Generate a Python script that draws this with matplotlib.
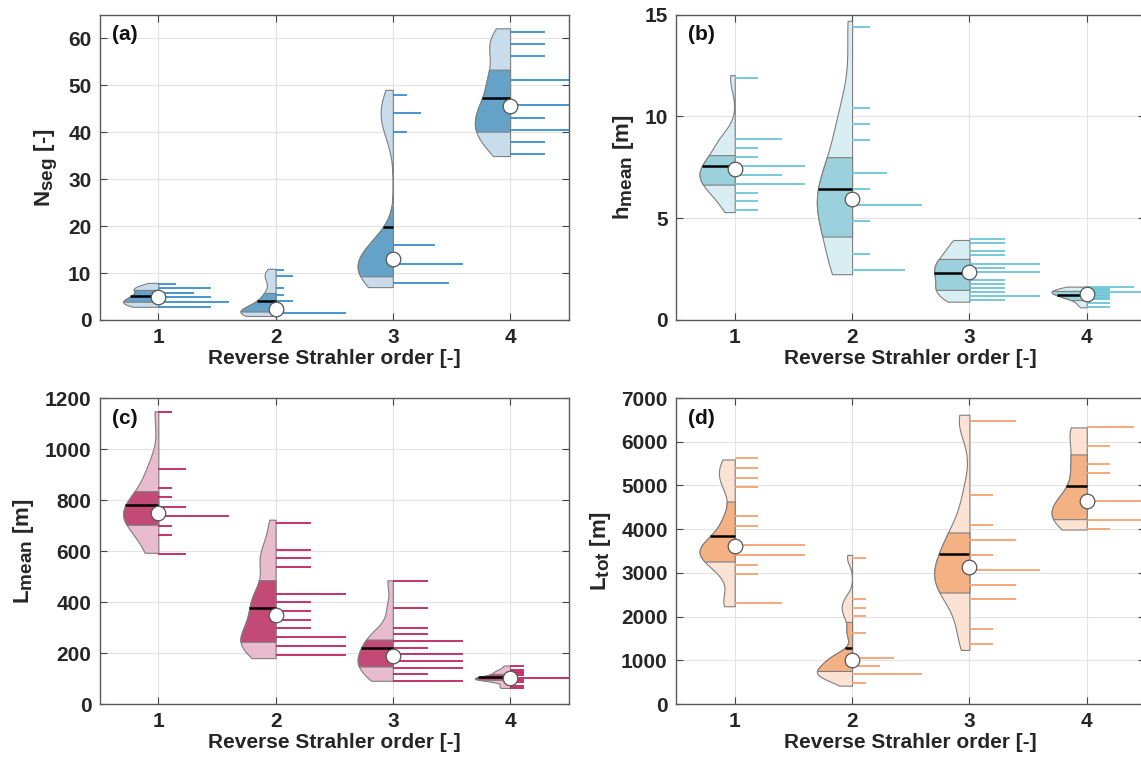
import numpy as np
import matplotlib
matplotlib.use("Agg")
import matplotlib.pyplot as plt
import matplotlib._mathtext as mathtext_internals

plt.rcParams['font.family'] = ['Liberation Sans', 'DejaVu Sans']
plt.rcParams['font.weight'] = 'bold'
plt.rcParams['mathtext.fontset'] = 'custom'
plt.rcParams['mathtext.rm'] = 'Liberation Sans:bold'
plt.rcParams['mathtext.it'] = 'Liberation Sans:bold'
plt.rcParams['mathtext.bf'] = 'Liberation Sans:bold'
# the MATLAB labels use big subscripts
mathtext_internals.SHRINK_FACTOR = 0.85

orders = [1, 2, 3, 4]

# ---- (a) N_seg ----
a_vals = [[7.7, 6.8, 5.8, 4.8, 3.8, 2.8],
          [10.65, 9.3, 6.75, 5.4, 4.1, 2.85, 1.5],
          [48.0, 44.0, 40.0, 15.9, 11.9, 7.9],
          [61.4, 58.8, 56.2, 51.0, 45.7, 43.1, 40.5, 37.9, 35.3]]
a_counts = [[1, 3, 2, 3, 4, 3],
            [1, 2, 1, 1, 2, 1, 8],
            [1, 2, 1, 3, 5, 4],
            [1, 1, 1, 2, 2, 1, 2, 1, 1]]
a_range = [(2.8, 7.9), (0.85, 10.9), (7.0, 49.0), (34.9, 62.1)]
a_q1 = [3.9, 1.8, 9.3, 40.1]
a_med = [5.0, 4.1, 19.7, 47.2]
a_q3 = [6.4, 5.75, 24.1, 53.3]
a_mean = [4.9, 2.35, 12.9, 45.5]
a_bw = [0.7, 1.4, 4.0, 3.2]

# ---- (b) h_mean ----
b_vals = [[11.87, 8.87, 8.43, 8.0, 7.57, 7.13, 6.70, 6.26, 5.84, 5.39],
          [14.38, 10.41, 9.61, 8.82, 7.23, 6.43, 5.64, 4.85, 3.26, 2.48],
          [3.98, 3.79, 3.39, 3.18, 2.77, 2.57, 2.38, 1.97, 1.77, 1.57, 1.38, 1.18, 0.97],
          [1.62, 1.54, 1.46, 1.38, 1.31, 1.24, 1.17, 1.10, 1.04, 0.85, 0.66]]
b_counts = [[1, 2, 1, 1, 3, 2, 3, 1, 1, 1],
            [1, 1, 1, 1, 2, 1, 4, 1, 1, 3],
            [1, 1, 1, 1, 2, 1, 2, 1, 1, 1, 1, 2, 1],
            [2, 1, 1, 3, 1, 1, 1, 1, 1, 1, 1]]
b_range = [(5.3, 12.03), (2.25, 14.7), (0.9, 3.93), (0.62, 1.64)]
b_q1 = [6.65, 4.1, 1.48, 0.98]
b_med = [7.56, 6.44, 2.3, 1.21]
b_q3 = [8.1, 8.0, 3.0, 1.43]
b_mean = [7.43, 5.92, 2.36, 1.28]
b_bw = [0.62, 1.6, 0.5, 0.15]

# ---- (c) L_mean ----
c_vals = [[1144, 922, 848, 811, 774, 737, 699, 662, 587],
          [708, 605, 571, 537, 433, 399, 365, 331, 297, 262, 228, 194],
          [482, 377, 298, 273, 247, 221, 195, 169, 142, 116, 91],
          [150, 134, 127, 120, 114, 101, 94, 88, 71, 64]]
c_counts = [[1, 2, 1, 1, 2, 5, 1, 1, 2],
            [1, 1, 1, 1, 2, 1, 1, 1, 1, 2, 2, 2],
            [1, 1, 1, 1, 2, 1, 2, 2, 2, 1, 2],
            [1, 1, 1, 1, 1, 5, 1, 1, 1, 1]]
c_range = [(593, 1148), (180, 723), (91, 485), (63, 151)]
c_q1 = [703, 244, 147, 95]
c_med = [779, 377, 218, 105]
c_q3 = [835, 486, 253, 118]
c_mean = [750, 350, 189, 101]
c_bw = [70, 60, 40, 9]

# ---- (d) L_tot ----
d_vals = [[5618, 5397, 5176, 4954, 4290, 4069, 3634, 3412, 3191, 2969, 2305],
          [3351, 2397, 2206, 2015, 1634, 1061, 870, 679, 489],
          [6481, 4779, 4092, 3756, 3412, 3076, 2733, 2397, 1710, 1366],
          [6328, 5901, 5481, 5275, 4641, 4221, 4008]]
d_counts = [[1, 1, 1, 1, 1, 1, 3, 3, 1, 1, 2],
            [1, 1, 1, 1, 1, 3, 2, 5, 1],
            [2, 1, 1, 2, 1, 3, 2, 2, 1, 1],
            [2, 1, 1, 1, 3, 3, 1]]
d_range = [(2237, 5595), (420, 3412), (1237, 6618), (3992, 6328)]
d_q1 = [3260, 756, 2550, 4229]
d_med = [3840, 1290, 3427, 4977]
d_q3 = [4634, 1878, 3924, 5710]
d_mean = [3626, 1000, 3145, 4649]
d_bw = [300, 170, 450, 350]

panels = [
    dict(tag='(a)', ylabel=r'N$_{\mathrm{seg}}$ [-]', ylim=(0, 65), yticks=np.arange(0, 61, 10),
         vals=a_vals, counts=a_counts, rng=a_range, q1=a_q1, med=a_med, q3=a_q3, mean=a_mean, bw=a_bw,
         line='#3a8dcb', dark='#64a2c8', light='#c9dcec',
         pos=[0.0874, 0.5773, 0.4110, 0.4033]),
    dict(tag='(b)', ylabel=r'h$_{\mathrm{mean}}$ [m]', ylim=(0, 15), yticks=[0, 5, 10, 15],
         vals=b_vals, counts=b_counts, rng=b_range, q1=b_q1, med=b_med, q3=b_q3, mean=b_mean, bw=b_bw,
         line='#6cc5d6', dark='#9bd1dc', light='#d9eef3',
         pos=[0.5925, 0.5773, 0.4114, 0.4033]),
    dict(tag='(c)', ylabel=r'L$_{\mathrm{mean}}$ [m]', ylim=(0, 1200), yticks=np.arange(0, 1201, 200),
         vals=c_vals, counts=c_counts, rng=c_range, q1=c_q1, med=c_med, q3=c_q3, mean=c_mean, bw=c_bw,
         line='#c0245f', dark='#c24a74', light='#e8bccd',
         pos=[0.0874, 0.0700, 0.4110, 0.4042]),
    dict(tag='(d)', ylabel=r'L$_{\mathrm{tot}}$ [m]', ylim=(0, 7000), yticks=np.arange(0, 7001, 1000),
         vals=d_vals, counts=d_counts, rng=d_range, q1=d_q1, med=d_med, q3=d_q3, mean=d_mean, bw=d_bw,
         line='#f7a26e', dark='#f3b184', light='#fbe2d3',
         pos=[0.5925, 0.0700, 0.4114, 0.4042]),
]

HALF = 0.3      # max half width of violins
LMAX = 0.6      # length of longest data line
EDGE = '#7f7f7f'


def kde(y, vals, wts, bw):
    z = (np.asarray(y)[:, None] - np.asarray(vals)[None, :]) / bw
    return (np.asarray(wts) * np.exp(-0.5 * z ** 2)).sum(axis=1)


fig = plt.figure(figsize=(11.41, 7.57), dpi=100)

for p in panels:
    ax = fig.add_axes(p['pos'])
    for i, g in enumerate(orders):
        vals, wts, bw = p['vals'][i], p['counts'][i], p['bw'][i]
        lo, hi = p['rng'][i]
        yy = np.linspace(lo, hi, 300)
        dens = kde(yy, vals, wts, bw)
        scale = HALF / dens.max()
        ax.fill_betweenx(yy, g - dens * scale, g, facecolor=p['light'], edgecolor=EDGE,
                         linewidth=0.8, zorder=2)
        yq = np.linspace(p['q1'][i], p['q3'][i], 150)
        ax.fill_betweenx(yq, g - kde(yq, vals, wts, bw) * scale, g, facecolor=p['dark'],
                         edgecolor=EDGE, linewidth=0.8, zorder=2.1)
        wmed = kde([p['med'][i]], vals, wts, bw)[0] * scale
        ax.plot([g - wmed, g], [p['med'][i]] * 2, color='black', lw=1.8, zorder=3,
                solid_capstyle='butt')
        cnt = np.asarray(wts, dtype=float)
        ax.hlines(vals, g, g + cnt / cnt.max() * LMAX, color=p['line'], lw=1.3, zorder=2.5)
        ax.plot(g, p['mean'][i], 'o', mfc='white', mec='#555555', mew=0.9, ms=10.5, zorder=4)

    ax.set_xlim(0.5, 4.5)
    ax.set_ylim(*p['ylim'])
    ax.set_xticks(orders)
    ax.set_yticks(p['yticks'])
    ax.set_axisbelow(True)
    ax.grid(True, color='#e3e3e3', lw=0.8)
    ax.tick_params(direction='in', top=True, right=True, length=5, width=0.8,
                   color='#444444', labelsize=15, labelcolor='#262626', pad=6)
    for s in ax.spines.values():
        s.set_color('#5a5a5a')
        s.set_linewidth(1.0)
    ax.set_xlabel('Reverse Strahler order [-]', fontsize=15, fontweight='bold', color='#262626',
                  labelpad=1)
    ax.set_ylabel(p['ylabel'], fontsize=16, fontweight='bold', color='#262626', labelpad=6)
    ax.text(0.026, 0.965, p['tag'], transform=ax.transAxes, fontsize=15, fontweight='bold',
            va='top', ha='left', color='#111111')

fig.savefig('out.png', dpi=100)
